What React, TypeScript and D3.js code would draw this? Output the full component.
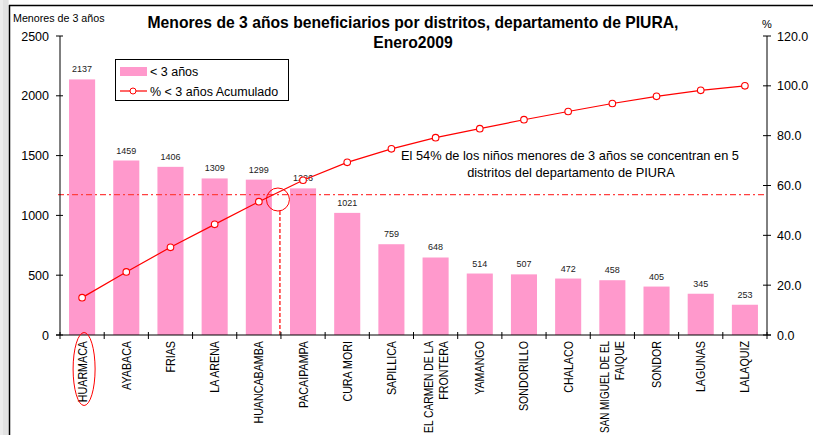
import React, { useRef, useEffect } from 'react';
import * as d3 from 'd3';

const districts = [
  'HUARMACA', 'AYABACA', 'FRIAS', 'LA ARENA', 'HUANCABAMBA', 'PACAIPAMPA', 'CURA MORI', 'SAPILLICA',
  'EL CARMEN DE LA|FRONTERA', 'YAMANGO', 'SONDORILLO', 'CHALACO', 'SAN MIGUEL DE EL|FAIQUE', 'SONDOR',
  'LAGUNAS', 'LALAQUIZ',
];
const children = [2137, 1459, 1406, 1309, 1299, 1226, 1021, 759, 648, 514, 507, 472, 458, 405, 345, 253];
const cumPct = [15.0, 25.3, 35.2, 44.4, 53.5, 62.1, 69.3, 74.7, 79.2, 82.8, 86.4, 89.7, 92.9, 95.8, 98.2, 100.0];
const leftTicks = [0, 500, 1000, 1500, 2000, 2500];
const rightTicks = [0, 20, 40, 60, 80, 100, 120];
const cutoffPct = 56.3;

const W = 813;
const H = 435;
const FONT = '"Liberation Sans", Arial, sans-serif';

const App = () => {
  const ref = useRef<SVGSVGElement>(null);

  useEffect(() => {
    const svg = d3.select(ref.current);
    svg.selectAll('*').remove();

    const left = 60, right = 767, top = 36, bottom = 335;
    const x = d3.scaleBand<string>().domain(districts).range([left, right]).paddingInner(0.41).paddingOuter(0.205);
    const yL = d3.scaleLinear().domain([0, 2500]).range([bottom, top]);
    const yR = d3.scaleLinear().domain([0, 120]).range([bottom, top]);
    const cx = (d: string) => (x(d) as number) + x.bandwidth() / 2;

    // window strip + frame
    svg.append('rect').attr('x', 0).attr('y', 0).attr('width', 9).attr('height', H).attr('fill', '#ececec');
    svg.append('rect').attr('x', 3).attr('y', 0).attr('width', 5).attr('height', H).attr('fill', '#e2e2e2');
    svg.append('line').attr('x1', 9).attr('x2', W).attr('y1', 5.5).attr('y2', 5.5).attr('stroke', '#000').attr('stroke-width', 1.5);
    svg.append('line').attr('x1', 9.5).attr('x2', 9.5).attr('y1', 5).attr('y2', H).attr('stroke', '#000').attr('stroke-width', 1.5);

    // bars
    svg.append('g').selectAll('rect').data(children).join('rect')
      .attr('x', (d, i) => x(districts[i]) as number)
      .attr('y', d => yL(d))
      .attr('width', x.bandwidth())
      .attr('height', d => bottom - yL(d))
      .attr('fill', '#ff99cc');

    // bar labels
    svg.append('g').selectAll('text').data(children).join('text')
      .attr('x', (d, i) => cx(districts[i]))
      .attr('y', d => yL(d) - 7)
      .attr('text-anchor', 'middle')
      .attr('font-family', FONT)
      .attr('font-size', 9)
      .attr('fill', '#222')
      .text(d => d);

    // cut-off reference lines
    svg.append('line')
      .attr('x1', left - 2).attr('x2', right)
      .attr('y1', yR(cutoffPct)).attr('y2', yR(cutoffPct))
      .attr('stroke', '#ff4040').attr('stroke-width', 1.2).attr('stroke-dasharray', '6,3,2,3');
    const vx = (x(districts[5]) as number) - x.step() * 0.205 - 1;
    svg.append('line')
      .attr('x1', vx).attr('x2', vx)
      .attr('y1', 211).attr('y2', bottom)
      .attr('stroke', '#ff0000').attr('stroke-width', 1.2).attr('stroke-dasharray', '4,2');
    svg.append('circle').attr('cx', vx - 2).attr('cy', 199.5).attr('r', 11.5)
      .attr('fill', 'none').attr('stroke', '#ff0000').attr('stroke-width', 1);

    // cumulative line
    const line = d3.line<number>().x((d, i) => cx(districts[i])).y(d => yR(d));
    svg.append('path').datum(cumPct).attr('d', line).attr('fill', 'none').attr('stroke', '#ff0000').attr('stroke-width', 1.2);
    svg.append('g').selectAll('circle').data(cumPct).join('circle')
      .attr('cx', (d, i) => cx(districts[i]))
      .attr('cy', d => yR(d))
      .attr('r', 3.3)
      .attr('fill', '#fff')
      .attr('stroke', '#ff0000')
      .attr('stroke-width', 1.1);

    // axes
    const axisG = svg.append('g').attr('font-family', FONT);
    axisG.append('line').attr('x1', left).attr('x2', left).attr('y1', top).attr('y2', bottom).attr('stroke', '#000');
    axisG.append('line').attr('x1', right).attr('x2', right).attr('y1', top).attr('y2', bottom).attr('stroke', '#000');
    axisG.append('line').attr('x1', left - 4).attr('x2', right + 4).attr('y1', bottom).attr('y2', bottom).attr('stroke', '#000');

    leftTicks.forEach(t => {
      axisG.append('line').attr('x1', left - 4).attr('x2', left + 3).attr('y1', yL(t)).attr('y2', yL(t)).attr('stroke', '#000');
      axisG.append('text').attr('x', 49).attr('y', yL(t) + 4.5).attr('text-anchor', 'end')
        .attr('font-size', 12.5).attr('fill', '#000').text(t);
    });
    rightTicks.forEach(t => {
      axisG.append('line').attr('x1', right - 4).attr('x2', right + 4).attr('y1', yR(t)).attr('y2', yR(t)).attr('stroke', '#000');
      axisG.append('text').attr('x', 777).attr('y', yR(t) + 4.5).attr('text-anchor', 'start')
        .attr('font-size', 12.5).attr('fill', '#000').text(t.toFixed(1));
    });
    const bounds = districts.map(d => (x(d) as number) - x.step() * 0.205).concat([right]);
    bounds.forEach(b => {
      axisG.append('line').attr('x1', b).attr('x2', b).attr('y1', bottom - 3).attr('y2', bottom + 4).attr('stroke', '#000');
    });

    // category labels (squeezed a bit, long ones fitted to the space below the axis)
    const labelTop = 341;
    const room = H - labelTop - 2;
    districts.forEach(d => {
      const lines = d.split('|');
      const c = cx(d);
      lines.forEach((ln, j) => {
        const off = (j - (lines.length - 1) / 2) * 15;
        const t = axisG.append('text')
          .attr('text-anchor', 'end')
          .attr('font-size', 12.3)
          .attr('fill', '#000')
          .text(ln);
        const len = (t.node() as SVGTextElement).getComputedTextLength();
        const sx = Math.min(0.87, room / len);
        t.attr('transform', `translate(${c + off + 4.5},${labelTop}) rotate(-90) scale(${sx},1)`);
      });
    });

    // ellipse around first label
    svg.append('ellipse').attr('cx', cx(districts[0]) + 2).attr('cy', 369).attr('rx', 11).attr('ry', 36.5)
      .attr('fill', 'none').attr('stroke', '#ff0000').attr('stroke-width', 1);

    // axis titles
    svg.append('text').attr('x', 13).attr('y', 22).attr('font-family', FONT).attr('font-size', 10.7).attr('fill', '#000').text('Menores de 3 años');
    svg.append('text').attr('x', 767).attr('y', 28).attr('text-anchor', 'middle').attr('font-family', FONT).attr('font-size', 11).attr('fill', '#000').text('%');

    // title
    const title = svg.append('text').attr('text-anchor', 'middle').attr('font-family', FONT)
      .attr('font-size', 15.7).attr('font-weight', 'bold').attr('fill', '#000');
    title.append('tspan').attr('x', 413).attr('y', 28).text('Menores de 3 años beneficiarios por distritos, departamento de PIURA,');
    title.append('tspan').attr('x', 413).attr('y', 48).text('Enero2009');

    // annotation
    const note = svg.append('text').attr('text-anchor', 'middle').attr('font-family', FONT).attr('font-size', 12.8).attr('fill', '#000');
    note.append('tspan').attr('x', 570).attr('y', 160).text('El 54% de los niños menores de 3 años se concentran en 5');
    note.append('tspan').attr('x', 571).attr('y', 177).text('distritos del departamento de PIURA');

    // legend
    const lg = svg.append('g').attr('font-family', FONT);
    lg.append('rect').attr('x', 115.5).attr('y', 59.5).attr('width', 173).attr('height', 41).attr('fill', '#fff').attr('stroke', '#000');
    lg.append('rect').attr('x', 120).attr('y', 67).attr('width', 27).attr('height', 9).attr('fill', '#ff99cc');
    lg.append('text').attr('x', 150).attr('y', 76).attr('font-size', 12.5).attr('fill', '#000').text('< 3 años');
    lg.append('line').attr('x1', 120).attr('x2', 147).attr('y1', 91).attr('y2', 91).attr('stroke', '#ff0000').attr('stroke-width', 1.2);
    lg.append('circle').attr('cx', 133).attr('cy', 91).attr('r', 3).attr('fill', '#fff').attr('stroke', '#ff0000');
    lg.append('text').attr('x', 150).attr('y', 96).attr('font-size', 12.5).attr('fill', '#000').text('% < 3 años Acumulado');
  }, []);

  return <svg ref={ref} width={W} height={H} style={{ position: 'absolute', left: 0, top: 0, background: '#fff' }} />;
};

export default App;
